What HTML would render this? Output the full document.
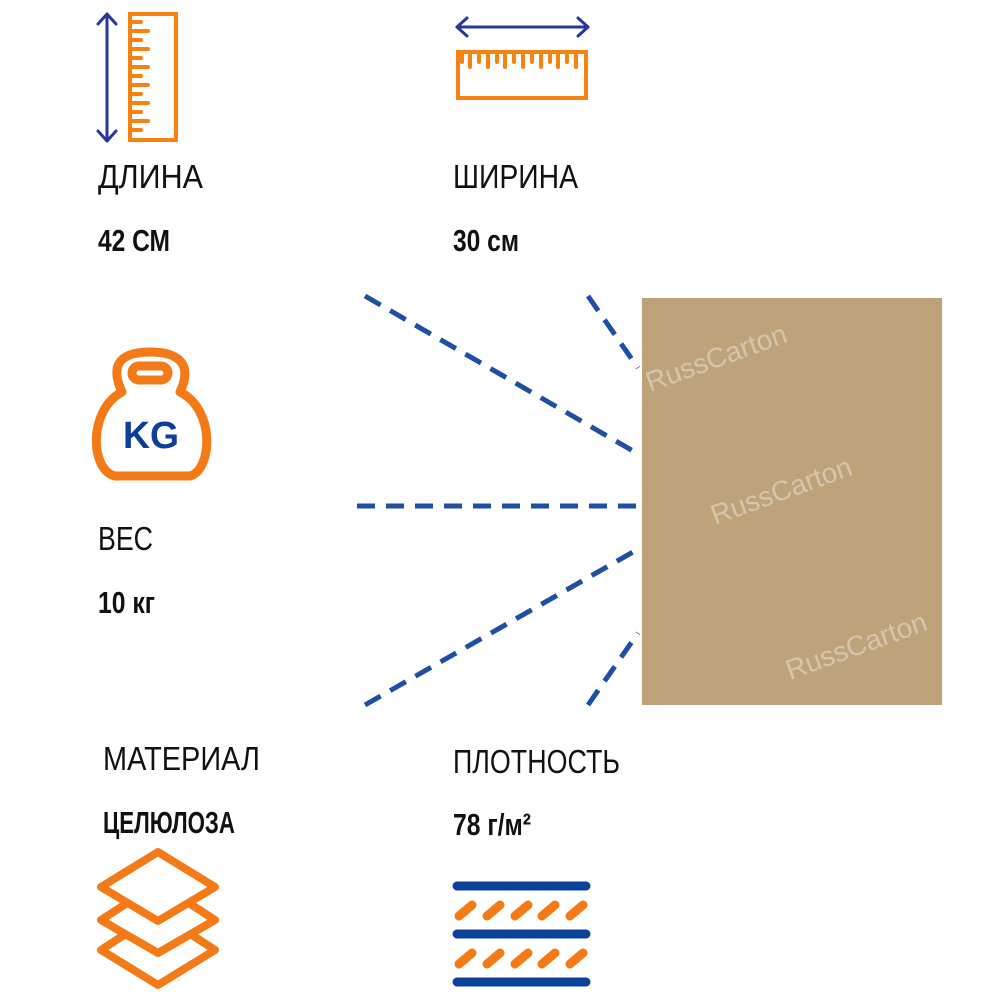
<!DOCTYPE html>
<html><head><meta charset="utf-8"><style>
html,body{margin:0;padding:0;background:#fff;width:1000px;height:1000px;overflow:hidden}
</style></head><body>
<svg width="1000" height="1000" viewBox="0 0 1000 1000" xmlns="http://www.w3.org/2000/svg">
<rect width="1000" height="1000" fill="#fff"/>
<!-- vertical ruler icon -->
<g stroke="#27389c" stroke-width="3" fill="none" stroke-linecap="round" stroke-linejoin="round">
<line x1="107" y1="15" x2="107" y2="140"/>
<polyline points="98,24 107,14 116,24"/>
<polyline points="98,131 107,141 116,131"/>
</g>
<g stroke="#f7820f" stroke-width="4" fill="none" stroke-linecap="round">
<rect x="130" y="14" width="46" height="126"/>
<path d="M132 22h9M132 31h16M132 40h9M132 49h16M132 58h9M132 67h16M132 76h9M132 85h16M132 94h9M132 103h16M132 112h9M132 121h16M132 130h9"/>
</g>
<!-- horizontal ruler icon -->
<g stroke="#27389c" stroke-width="3" fill="none" stroke-linecap="round" stroke-linejoin="round">
<line x1="457" y1="27" x2="588" y2="27"/>
<polyline points="467,18 457,27 467,36"/>
<polyline points="578,18 588,27 578,36"/>
</g>
<g stroke="#f7820f" stroke-width="4" fill="none" stroke-linecap="round">
<rect x="458" y="52" width="128" height="46"/>
<path d="M462 55v7M470 55v12M479 55v7M488 55v12M497 55v7M505 55v12M514 55v7M523 55v12M532 55v7M541 55v12M550 55v7M558 55v12M567 55v7M576 55v12"/>
</g>
<!-- kettlebell -->
<g stroke="#f47a17" stroke-width="9" fill="none" stroke-linejoin="round">
<path d="M122 392 C108 362,124 352,150 352 C176 352,194 362,180 392 C216 410,212 470,190 476 L115 476 C90 470,88 410,122 392 Z"/>
<rect x="132" y="366" width="36" height="14" rx="7"/>
</g>
<text x="151" y="448" font-family="Liberation Sans, sans-serif" font-weight="bold" font-size="38" fill="#0c3f99" text-anchor="middle" textLength="56" lengthAdjust="spacingAndGlyphs">KG</text>
<!-- layers -->
<g stroke="#f47a17" stroke-width="8" fill="#fff" stroke-linejoin="round">
<path d="M158 913 L101 950 L158 985 L215 950 Z"/>
<path d="M158 883 L101 920 L158 953 L215 920 Z"/>
<path d="M158 852 L101 887 L158 921 L215 887 Z"/>
</g>
<!-- density icon -->
<g stroke-linecap="round">
<g stroke="#0a419a" stroke-width="9">
<line x1="457" y1="886" x2="586" y2="886"/>
<line x1="457" y1="934" x2="586" y2="934"/>
<line x1="457" y1="982" x2="586" y2="982"/>
</g>
<g stroke="#f47a17" stroke-width="9">
<path d="M459 916l13-11M487 916l13-11M515 916l13-11M542 916l13-11M570 916l13-11"/>
<path d="M459 964l13-11M487 964l13-11M515 964l13-11M542 964l13-11M570 964l13-11"/>
</g>
</g>
<!-- dashed lines -->
<g stroke="#1f4fa5" stroke-width="5" stroke-dasharray="18,11" fill="none">
<line x1="365" y1="296" x2="640" y2="455"/>
<line x1="588" y1="296" x2="638" y2="368"/>
<line x1="357" y1="506" x2="640" y2="506"/>
<line x1="365" y1="705" x2="640" y2="548"/>
<line x1="588" y1="705" x2="638" y2="633"/>
</g>
<!-- cardboard -->
<rect x="642" y="298" width="300" height="407" fill="#bda27a"/>
<g fill="#e6dccb" fill-opacity="0.6" font-family="Liberation Sans, sans-serif">
<text x="650" y="392" font-size="28" transform="rotate(-20 650 392)" textLength="148" lengthAdjust="spacingAndGlyphs">RussCarton</text>
<text x="715" y="525" font-size="28" transform="rotate(-20 715 525)" textLength="148" lengthAdjust="spacingAndGlyphs">RussCarton</text>
<text x="790" y="680" font-size="28" transform="rotate(-20 790 680)" textLength="148" lengthAdjust="spacingAndGlyphs">RussCarton</text>
</g>
<!-- labels -->
<g font-family="Liberation Sans, sans-serif" fill="#111" font-size="33">
<text x="98" y="188" textLength="105" lengthAdjust="spacingAndGlyphs">ДЛИНА</text>
<text x="453" y="188" textLength="125" lengthAdjust="spacingAndGlyphs">ШИРИНА</text>
<text x="98" y="550" textLength="55" lengthAdjust="spacingAndGlyphs">ВЕС</text>
<text x="103" y="770" textLength="157" lengthAdjust="spacingAndGlyphs">МАТЕРИАЛ</text>
<text x="453" y="773" textLength="167" lengthAdjust="spacingAndGlyphs">ПЛОТНОСТЬ</text>
</g>
<g font-family="Liberation Sans, sans-serif" fill="#111" font-size="31" font-weight="bold">
<text x="98" y="251" textLength="72" lengthAdjust="spacingAndGlyphs">42 СМ</text>
<text x="453" y="251" textLength="66" lengthAdjust="spacingAndGlyphs">30 см</text>
<text x="98" y="613" textLength="57" lengthAdjust="spacingAndGlyphs">10 кг</text>
<text x="103" y="833" textLength="132" lengthAdjust="spacingAndGlyphs">ЦЕЛЮЛОЗА</text>
<text x="453" y="835" textLength="78" lengthAdjust="spacingAndGlyphs">78 г/м²</text>
</g>
</svg>
</body></html>
